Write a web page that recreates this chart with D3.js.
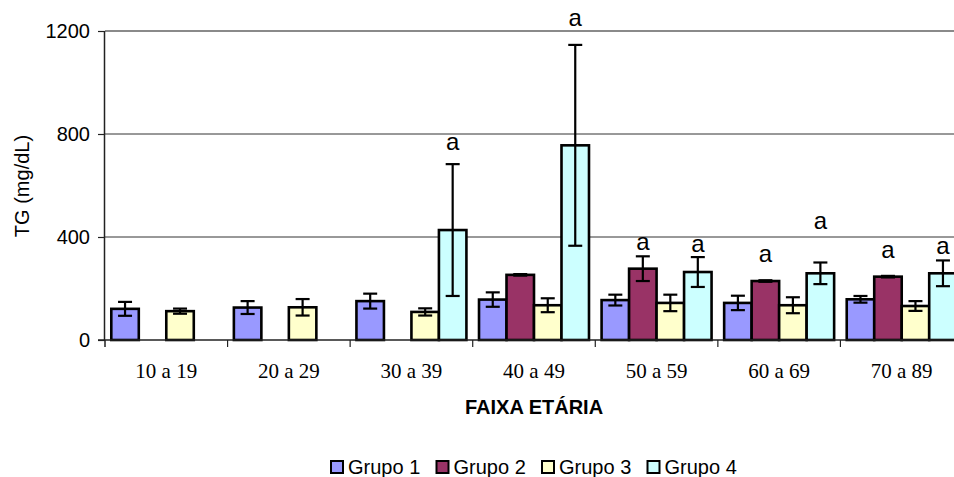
<!DOCTYPE html>
<html>
<head>
<meta charset="utf-8">
<script src="https://cdn.jsdelivr.net/npm/d3@7"></script>
<style>
  html, body { margin: 0; padding: 0; background: #fff; overflow: hidden; }
  svg { display: block; }
</style>
</head>
<body>
<svg id="chart" width="954" height="477"></svg>
<script>
// Age bands and group means (TG, mg/dL) with their error half-widths
const categories = ["10 a 19", "20 a 29", "30 a 39", "40 a 49", "50 a 59", "60 a 69", "70 a 89"];
const groups = ["Grupo 1", "Grupo 2", "Grupo 3", "Grupo 4"];
const colors = ["#9999FF", "#993366", "#FFFFCC", "#CCFFFF"];

const grupo1 = [121, 126, 151, 157, 155, 144, 158];
const grupo1Err = [27, 25, 29, 28, 21, 28, 13];
const grupo2 = [null, null, null, 253, 277, 229, 246];
const grupo2Err = [null, null, null, 3, 48, 3, 3];
const grupo3 = [112, 127, 109, 135, 144, 135, 132];
const grupo3Err = [10, 32, 14, 27, 32, 31, 19];
const grupo4 = [null, null, 427, 756, 264, 259, 259];
const grupo4Err = [null, null, 256, 390, 58, 42, 50];

// Significance letters: [category, group, height of letter baseline in mg/dL]
const marks = [
  ["30 a 39", "Grupo 4", 738],
  ["40 a 49", "Grupo 4", 1219],
  ["50 a 59", "Grupo 2", 349],
  ["50 a 59", "Grupo 4", 340],
  ["60 a 69", "Grupo 2", 304],
  ["60 a 69", "Grupo 4", 432],
  ["70 a 89", "Grupo 2", 320],
  ["70 a 89", "Grupo 4", 334]
];

const yTicks = [0, 400, 800, 1200];

const values = [grupo1, grupo2, grupo3, grupo4];
const errors = [grupo1Err, grupo2Err, grupo3Err, grupo4Err];

const rows = [];
categories.forEach((c, i) => {
  groups.forEach((g, j) => {
    if (values[j][i] != null) rows.push({ cat: c, grp: g, gi: j, v: values[j][i], e: errors[j][i] });
  });
});

const svg = d3.select("#chart");
const sans = "'Liberation Sans', Arial, sans-serif";
const serif = "'Liberation Serif', 'Times New Roman', serif";

const plotLeft = 105, plotRight = 963, plotTop = 31, plotBottom = 340;

const x0 = d3.scaleBand().domain(categories).range([plotLeft, plotRight]).paddingInner(0).paddingOuter(0);
const x1 = d3.scaleBand().domain(groups).range([0, x0.bandwidth()]).paddingInner(0).paddingOuter(0.229);
const y = d3.scaleLinear().domain([0, 1200]).range([plotBottom, plotTop]);

// gridlines
svg.append("g")
  .selectAll("line")
  .data(yTicks.filter(t => t > 0))
  .join("line")
  .attr("x1", plotLeft).attr("x2", plotRight)
  .attr("y1", d => y(d)).attr("y2", d => y(d))
  .attr("stroke", d => d === 1200 ? "#8a8a8a" : "#333")
  .attr("stroke-width", d => d === 1200 ? 2.2 : 1);

// bars
svg.append("g")
  .selectAll("rect")
  .data(rows)
  .join("rect")
  .attr("x", d => x0(d.cat) + x1(d.grp))
  .attr("y", d => y(d.v))
  .attr("width", x1.bandwidth())
  .attr("height", d => y(0) - y(d.v))
  .attr("fill", d => colors[d.gi])
  .attr("stroke", "#000")
  .attr("stroke-width", 2.6);

// error bars
const eb = svg.append("g").attr("stroke", "#000").attr("stroke-width", 2.2);
const cx = d => x0(d.cat) + x1(d.grp) + x1.bandwidth() / 2;
const capW = 7;
eb.selectAll("line.v").data(rows).join("line").attr("class", "v")
  .attr("x1", cx).attr("x2", cx)
  .attr("y1", d => y(d.v + d.e)).attr("y2", d => y(d.v - d.e));
eb.selectAll("line.t").data(rows).join("line").attr("class", "t")
  .attr("x1", d => cx(d) - capW).attr("x2", d => cx(d) + capW)
  .attr("y1", d => y(d.v + d.e)).attr("y2", d => y(d.v + d.e));
eb.selectAll("line.b").data(rows).join("line").attr("class", "b")
  .attr("x1", d => cx(d) - capW).attr("x2", d => cx(d) + capW)
  .attr("y1", d => y(d.v - d.e)).attr("y2", d => y(d.v - d.e));

// significance letters
svg.append("g")
  .selectAll("text")
  .data(marks)
  .join("text")
  .attr("x", d => x0(d[0]) + x1(d[1]) + x1.bandwidth() / 2)
  .attr("y", d => y(d[2]))
  .attr("text-anchor", "middle")
  .attr("font-family", sans)
  .attr("font-size", 24)
  .attr("fill", "#000")
  .text("a");

// y axis
const yAxis = svg.append("g")
  .attr("transform", `translate(${plotLeft},0)`)
  .call(d3.axisLeft(y).tickValues(yTicks).tickSize(7).tickPadding(8).tickFormat(d3.format("d")));
yAxis.select(".domain").attr("stroke", "#222").attr("stroke-width", 1.5).attr("d", `M-0.5,${plotBottom}V${plotTop}`);
yAxis.selectAll(".tick line").attr("stroke", "#222").attr("stroke-width", 1.2);
yAxis.selectAll(".tick text").attr("font-family", sans).attr("font-size", 20).attr("fill", "#000");

// x axis baseline with boundary ticks
svg.append("line")
  .attr("x1", plotLeft - 7).attr("x2", plotRight)
  .attr("y1", plotBottom).attr("y2", plotBottom)
  .attr("stroke", "#222").attr("stroke-width", 1.5);
svg.append("g")
  .selectAll("line")
  .data(categories.slice(1))
  .join("line")
  .attr("x1", d => x0(d)).attr("x2", d => x0(d))
  .attr("y1", plotBottom).attr("y2", plotBottom + 7)
  .attr("stroke", "#222").attr("stroke-width", 1.2);
svg.append("line")
  .attr("x1", plotLeft).attr("x2", plotLeft)
  .attr("y1", plotBottom).attr("y2", plotBottom + 7)
  .attr("stroke", "#222").attr("stroke-width", 1.5);

svg.append("g")
  .selectAll("text")
  .data(categories)
  .join("text")
  .attr("x", d => x0(d) + x0.bandwidth() / 2)
  .attr("y", 378)
  .attr("text-anchor", "middle")
  .attr("font-family", serif)
  .attr("font-size", 21)
  .attr("fill", "#000")
  .text(d => d);

// axis titles
svg.append("text")
  .attr("x", 534).attr("y", 414)
  .attr("text-anchor", "middle")
  .attr("font-family", sans)
  .attr("font-weight", "bold")
  .attr("font-size", 20)
  .text("FAIXA ETÁRIA");

svg.append("text")
  .attr("transform", "translate(29,186) rotate(-90)")
  .attr("text-anchor", "middle")
  .attr("font-family", sans)
  .attr("font-size", 20)
  .text("TG (mg/dL)");

// legend
const legend = svg.append("g").attr("transform", "translate(330,460)");
const item = legend.selectAll("g").data(groups).join("g")
  .attr("transform", (d, i) => `translate(${i * 105.5},0)`);
item.append("rect")
  .attr("x", 1).attr("y", 1).attr("width", 12).attr("height", 12)
  .attr("fill", (d, i) => colors[i])
  .attr("stroke", "#000").attr("stroke-width", 2);
item.append("text")
  .attr("x", 18).attr("y", 14)
  .attr("font-family", sans)
  .attr("font-size", 20)
  .text(d => d);
</script>
</body>
</html>
